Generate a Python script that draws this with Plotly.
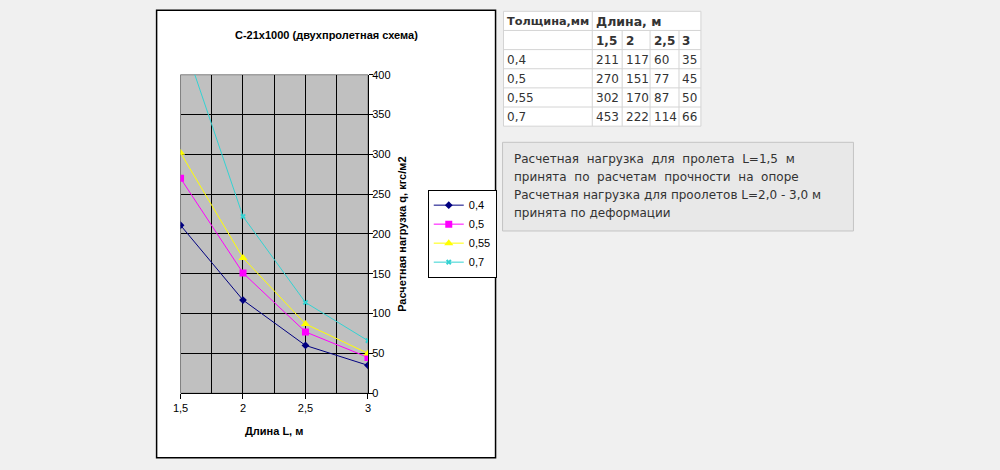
import plotly.graph_objects as go

# ---- data ----
lengths = [1.5, 2, 2.5, 3]
length_labels = ["1,5", "2", "2,5", "3"]
thickness = ["0,4", "0,5", "0,55", "0,7"]
q_04 = [211, 117, 60, 35]
q_05 = [270, 151, 77, 45]
q_055 = [302, 170, 87, 50]
q_07 = [453, 222, 114, 66]
series_values = [q_04, q_05, q_055, q_07]

chart_title = "С-21х1000 (двухпролетная схема)"
x_title = "Длина L, м"
y_title = "Расчетная нагрузка q, кгс/м2"
table_head = ["Толщина,мм", "Длина, м"]
note_lines = [
    "Расчетная\u00a0\u00a0нагрузка\u00a0\u00a0для\u00a0\u00a0пролета\u00a0\u00a0L=1,5\u00a0\u00a0м",
    "принята\u00a0\u00a0по\u00a0\u00a0расчетам\u00a0\u00a0прочности\u00a0\u00a0на\u00a0\u00a0опоре",
    "Расчетная нагрузка для проолетов L=2,0 - 3,0 м",
    "принята по деформации",
]

# ---- page geometry ----
# The page has an 8px body margin, so the captured page is 1008x486 and is
# shown at 1000x470; positions below are given in the final picture's pixels.
W, H, MARGIN = 1000, 470, 8
SX, SY = (W + MARGIN) / W, (H + 2 * MARGIN) / H
def px(x):
    return (x * SX - MARGIN) / W
def py(y):
    return 1 - (y * SY - MARGIN) / H

colors = ["#000080", "#ff00ff", "#ffff00", "#33d2d2"]
symbols = ["diamond", "square", "triangle-up", "x"]
msizes = [6, 7, 8, 5]

fig = go.Figure()
for name, vals, c, s, ms in zip(thickness, series_values, colors, symbols, msizes):
    fig.add_trace(go.Scatter(
        x=lengths, y=vals, name=name, mode="lines+markers",
        line=dict(color=c, width=1),
        marker=dict(color=c, symbol=s, size=ms, line=dict(width=0)),
    ))

font_chart = "Liberation Sans, Arial, sans-serif"
font_page = "DejaVu Sans, Verdana, sans-serif"

fig.update_layout(
    width=W, height=H,
    margin=dict(l=0, r=0, t=0, b=0),
    paper_bgcolor="#f0f0f0",
    plot_bgcolor="#c0c0c0",
    separators=", ",
    showlegend=True,
    legend=dict(
        x=px(429), y=py(190), xanchor="left", yanchor="top",
        bgcolor="white", bordercolor="black", borderwidth=1,
        font=dict(family=font_chart, size=11, color="black"),
        itemwidth=30, tracegroupgap=0,
    ),
    xaxis=dict(
        domain=[px(181), px(369)], range=[1.5, 3],
        tickvals=lengths, ticktext=length_labels,
        showgrid=True, gridcolor="black", gridwidth=1,
        minor=dict(dtick=0.25, showgrid=True, gridcolor="black", gridwidth=1, ticks=""),
        showline=True, linecolor="black", linewidth=1,
        ticks="outside", ticklen=5, tickcolor="black",
        tickfont=dict(family=font_chart, size=11, color="black"),
        zeroline=False, fixedrange=True,
    ),
    yaxis=dict(
        domain=[py(392), py(76)], range=[0, 400], dtick=50,
        side="right",
        showgrid=True, gridcolor="black", gridwidth=1,
        showline=True, linecolor="black", linewidth=1,
        ticks="outside", ticklen=4, tickcolor="black", ticklabelstandoff=-3,
        tickfont=dict(family=font_chart, size=11, color="black"),
        zeroline=False, fixedrange=True,
    ),
)

shapes = []
# chart frame (white)
shapes.append(dict(type="rect", xref="paper", yref="paper",
                   x0=px(157), x1=px(497), y0=py(456), y1=py(12),
                   fillcolor="white", line=dict(color="black", width=1.5), layer="below"))
# plot area fill and border
shapes.append(dict(type="rect", xref="x domain", yref="y domain", x0=0, x1=1, y0=0, y1=1,
                   fillcolor="#c0c0c0", line=dict(width=0), layer="below"))
shapes.append(dict(type="rect", xref="x domain", yref="y domain", x0=0, x1=1, y0=0, y1=1,
                   fillcolor="rgba(0,0,0,0)", line=dict(color="#808080", width=1), layer="below"))

annotations = []
annotations.append(dict(text="<b>" + chart_title + "</b>", x=px(327), y=py(37),
                        xref="paper", yref="paper", showarrow=False,
                        xanchor="center", yanchor="middle",
                        font=dict(family=font_chart, size=11, color="black")))
annotations.append(dict(text="<b>" + x_title + "</b>", x=px(275), y=py(430),
                        xref="paper", yref="paper", showarrow=False,
                        xanchor="center", yanchor="middle",
                        font=dict(family=font_chart, size=11, color="black")))
annotations.append(dict(text="<b>" + y_title + "</b>", x=px(403), y=py(234),
                        xref="paper", yref="paper", showarrow=False, textangle=-90,
                        xanchor="center", yanchor="middle",
                        font=dict(family=font_chart, size=11, color="black")))

# ---- table ----
col_x = [505, 594, 624, 652, 681, 703]
row_y = [13, 32, 51, 70, 89, 108, 127]
tcolor = "#333333"
bcolor = "#d4d4d4"
shapes.append(dict(type="rect", xref="paper", yref="paper",
                   x0=px(col_x[0]), x1=px(col_x[-1]), y0=py(row_y[-1]), y1=py(row_y[0]),
                   fillcolor="white", line=dict(color=bcolor, width=1), layer="below"))
for r in range(1, len(row_y) - 1):
    shapes.append(dict(type="line", xref="paper", yref="paper",
                       x0=px(col_x[0]), x1=px(col_x[-1]), y0=py(row_y[r]), y1=py(row_y[r]),
                       line=dict(color=bcolor, width=1), layer="below"))
shapes.append(dict(type="line", xref="paper", yref="paper",
                   x0=px(col_x[1]), x1=px(col_x[1]), y0=py(row_y[-1]), y1=py(row_y[0]),
                   line=dict(color=bcolor, width=1), layer="below"))
for c in range(2, len(col_x) - 1):
    shapes.append(dict(type="line", xref="paper", yref="paper",
                       x0=px(col_x[c]), x1=px(col_x[c]), y0=py(row_y[-1]), y1=py(row_y[1]),
                       line=dict(color=bcolor, width=1), layer="below"))

def cell(text, c, r, bold=False, size=12):
    yc = (row_y[r] + row_y[r + 1]) / 2
    t = "<b>" + text + "</b>" if bold else text
    annotations.append(dict(text=t, x=px(col_x[c] + 1.5), y=py(yc + 0.5), xref="paper", yref="paper",
                            xanchor="left", yanchor="middle", showarrow=False,
                            font=dict(family=font_page, size=size, color=tcolor)))

cell(table_head[0], 0, 0, bold=True, size=11.3)
cell(table_head[1], 1, 0, bold=True, size=12.5)
for j, lab in enumerate(length_labels):
    cell(lab, 1 + j, 1, bold=True)
for i, (th, vals) in enumerate(zip(thickness, series_values)):
    cell(th, 0, 2 + i)
    for j, v in enumerate(vals):
        cell(str(v), 1 + j, 2 + i)

# ---- note box ----
shapes.append(dict(type="rect", xref="paper", yref="paper",
                   x0=px(504), x1=px(856), y0=py(231), y1=py(143),
                   fillcolor="#e8e8e8", line=dict(color="#c4c4c4", width=1), layer="below"))
note_y = [160, 177, 195, 213]
for line, yy in zip(note_lines, note_y):
    annotations.append(dict(text=line, x=px(513), y=py(yy), xref="paper", yref="paper",
                            xanchor="left", yanchor="middle", showarrow=False,
                            font=dict(family=font_page, size=12, color=tcolor)))

fig.update_layout(shapes=shapes, annotations=annotations)
fig.write_html("out.html", post_script="document.body.style.background='#f0f0f0';")
